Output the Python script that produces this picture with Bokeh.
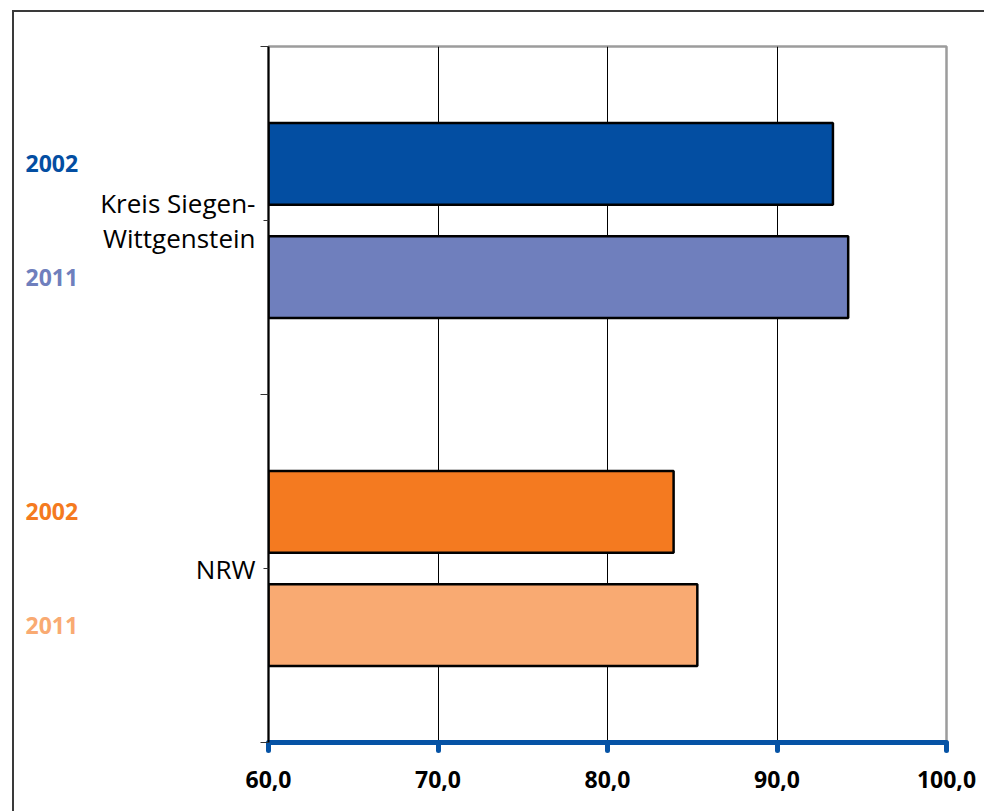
from bokeh.plotting import figure
from bokeh.layouts import row
from bokeh.models import ColumnDataSource, Range1d, FixedTicker
from bokeh.core.properties import value
from bokeh.embed import file_html
from bokeh.resources import INLINE

# ---- data ----
categories = ["Kreis Siegen-\nWittgenstein", "NRW"]
years = ["2002", "2011"]
values_2002 = [93.3, 83.9]
values_2011 = [94.2, 85.3]
colors_2002 = ["#034ea2", "#f47a20"]
colors_2011 = ["#6f7fbd", "#f9aa72"]
x_ticks = [60, 70, 80, 90, 100]
x_tick_labels = ["60,0", "70,0", "80,0", "90,0", "100,0"]

n = len(categories)
centers = [n - 0.5 - i for i in range(n)]  # first category on top
offset = 0.163
bar_h = 0.235

ys, rights, fills, yrs = [], [], [], []
for i, c in enumerate(centers):
    ys += [c + offset, c - offset]
    rights += [values_2002[i], values_2011[i]]
    fills += [colors_2002[i], colors_2011[i]]
    yrs += [years[0], years[1]]

src = ColumnDataSource(dict(y=ys, right=rights, fill=fills, year=yrs))

H = 799
TOP = 34
BOTTOM = 69
W1 = 82
W2 = 888
y_range = Range1d(0, n)

# ---- left strip with the year labels ----
left = figure(width=W1, height=H, x_range=Range1d(0, W1), y_range=y_range,
              x_axis_location=None, y_axis_location=None,
              output_backend="svg", toolbar_location=None,
              min_border_left=0, min_border_right=0,
              min_border_top=TOP, min_border_bottom=BOTTOM)
left.outline_line_color = None
left.grid.grid_line_color = None
left.text(x=11, y="y", text="year", text_color="fill", source=src,
          text_font=value("Open Sans"), text_font_style="bold",
          text_font_size="23px", text_baseline="middle", text_align="left")

# ---- main chart ----
p = figure(width=W2, height=H, x_range=Range1d(60, 100), y_range=y_range,
           output_backend="svg", toolbar_location=None,
           min_border_left=172, min_border_right=38,
           min_border_top=TOP, min_border_bottom=BOTTOM)
p.outline_line_color = "#9c9c9c"
p.outline_line_width = 2.5

p.hbar(y="y", left=60, right="right", height=bar_h, fill_color="fill",
       line_color="black", line_width=2.5, source=src)

# x axis
p.xaxis.ticker = FixedTicker(ticks=x_ticks, minor_ticks=[])
p.xaxis.major_label_overrides = {t: l for t, l in zip(x_ticks, x_tick_labels)}
p.xaxis.axis_line_color = "#0653a5"
p.xaxis.axis_line_width = 5
p.xaxis.major_tick_line_color = "#0653a5"
p.xaxis.major_tick_line_width = 5
p.xaxis.major_tick_line_cap = "round"
p.xaxis.major_tick_in = 0
p.xaxis.major_tick_out = 8
p.xaxis.major_label_text_font = "Open Sans"
p.xaxis.major_label_text_font_style = "bold"
p.xaxis.major_label_text_font_size = "23px"
p.xaxis.major_label_text_color = "black"
p.xaxis.major_label_standoff = 20

# y axis
p.yaxis.ticker = FixedTicker(ticks=centers, minor_ticks=list(range(n + 1)))
p.yaxis.major_label_overrides = {c: name for c, name in zip(centers, categories)}
p.yaxis.axis_line_color = "black"
p.yaxis.axis_line_width = 2
p.yaxis.major_tick_line_color = "#333333"
p.yaxis.major_tick_in = 0
p.yaxis.major_tick_out = 5
p.yaxis.minor_tick_line_color = "#333333"
p.yaxis.minor_tick_in = 0
p.yaxis.minor_tick_out = 8
p.yaxis.major_label_text_font = "Open Sans"
p.yaxis.major_label_text_font_size = "26px"
p.yaxis.major_label_text_line_height = 0.96
p.yaxis.major_label_text_color = "black"
p.yaxis.major_label_standoff = 5

# grid
p.xgrid.ticker = FixedTicker(ticks=x_ticks[1:-1])
p.xgrid.grid_line_color = "black"
p.xgrid.grid_line_width = 1
p.ygrid.grid_line_color = None

layout = row(left, p, spacing=0)
layout.styles = {"border-left": "2px solid #3a3a3a", "border-top": "2px solid #3a3a3a",
                 "margin-left": "12px", "margin-top": "10px"}

open("out.html", "w").write(file_html(layout, INLINE))
